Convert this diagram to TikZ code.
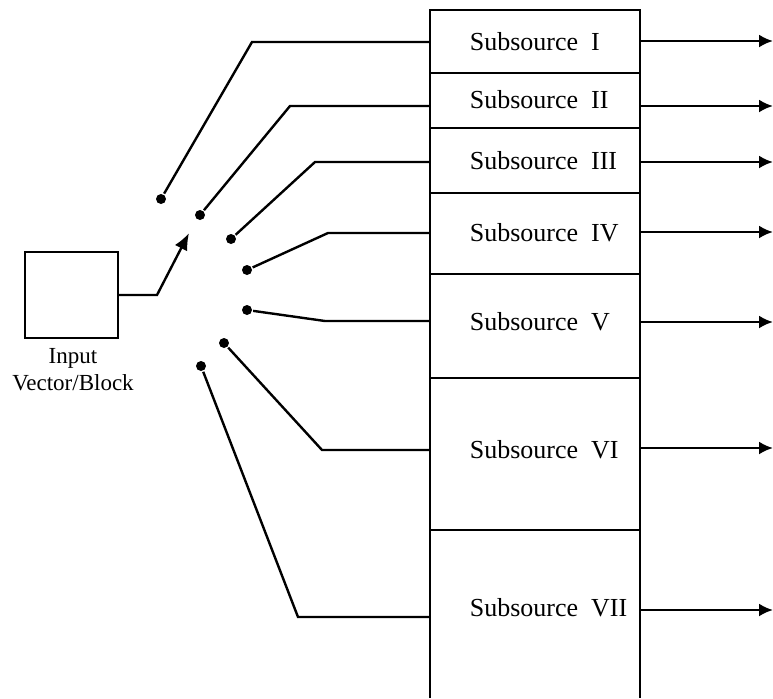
\documentclass[tikz,border=0pt]{standalone}
\usepackage{fontspec}
\setmainfont{Liberation Serif}
\usetikzlibrary{arrows.meta,positioning}

\tikzset{
  dot/.style={circle,fill,inner sep=0pt,minimum size=5pt},
  subtext/.style={anchor=west,font=\fontsize{13}{15}\selectfont},
  outarrow/.style={-{Latex[length=7pt,width=6.5pt]}}
}

\begin{document}
\begin{tikzpicture}[x=0.5pt,y=-0.5pt,line width=1.2pt]
    \useasboundingbox (0,0) rectangle (773,698);

    % Subsource column (open at the bottom)
    \draw (430,698) -- (430,10) -- (640,10) -- (640,698);

    % Sections
    \foreach \y in {73,128,193,274,378,530}
        \draw (430,\y) -- (640,\y);

    % Labels
    \foreach \n/\y/\rn in {1/42/I,2/100/II,3/161/III,4/233/IV,5/322/V,6/450/VI,7/608/VII}
        \node [subtext] (s\n) at (462,\y) {Subsource\enspace\rn};

    % Outputs
    \foreach \n/\y in {1/41,2/106,3/162,4/232,5/322,6/448,7/610} {
        \coordinate (out\n) at (640,\y);
        \coordinate (tip\n) at (773,\y);
        \draw [outarrow] (out\n) -- (tip\n);
    }

    % Switch contacts
    \foreach \n/\dx/\dy/\bx/\by in {1/161/199/252/42, 2/200/215/290/106, 3/231/239/315/162,
            4/247/270/328/233, 5/247/310/325/321, 6/224/343/322/450, 7/201/366/298/617} {
        \node [dot] (d\n) at (\dx,\dy) {};
        \coordinate (in\n) at (430,\by);
        \draw (d\n) -- (\bx,\by) -- (in\n);
    }

    % Input block and switch arm
    \node [draw,minimum width=46.5pt,minimum height=43pt] (blk) at (71.5,295) {};
    \node [align=center,font=\fontsize{11.5}{13.5}\selectfont] (blklabel) at (73,370) {Input\\Vector/Block};
    \coordinate (knee) at (157,295);
    \coordinate (arm) at (189,233);
    \draw [-{Latex[length=8.5pt,width=7pt]}] (blk.east) -- (knee) -- (arm);

\end{tikzpicture}
\end{document}
